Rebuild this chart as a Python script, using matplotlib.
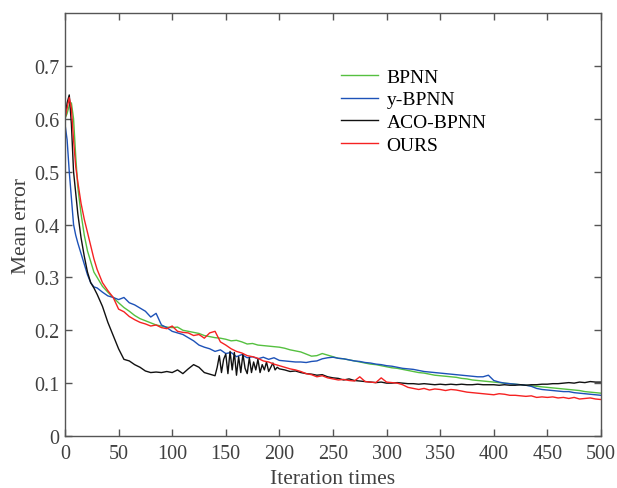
import matplotlib
matplotlib.use("Agg")
import matplotlib.pyplot as plt

plt.rcParams["font.family"] = ["Liberation Serif", "DejaVu Serif"]

# shared iteration grid
iters = [0, 2, 4, 6, 8, 10, 12, 15, 18, 21, 24, 27, 30] + list(range(35, 501, 5))

bpnn = [0.600, 0.610, 0.625, 0.630, 0.600, 0.530, 0.470, 0.420, 0.380, 0.350, 0.330, 0.310, 0.300,
        0.283, 0.272, 0.262, 0.252, 0.243, 0.236, 0.228, 0.222, 0.218, 0.214, 0.210, 0.208, 0.206,
        0.205, 0.206, 0.200, 0.198, 0.196, 0.194, 0.190, 0.188, 0.186, 0.185, 0.183, 0.180, 0.181,
        0.178, 0.174, 0.175, 0.172, 0.171, 0.170, 0.169, 0.168, 0.166, 0.163, 0.161, 0.159, 0.155,
        0.151, 0.152, 0.156, 0.153, 0.150, 0.147, 0.146, 0.144, 0.142, 0.140, 0.138, 0.136, 0.135,
        0.133, 0.131, 0.129, 0.128, 0.126, 0.124, 0.122, 0.120, 0.119, 0.117, 0.115, 0.114, 0.113,
        0.112, 0.111, 0.109, 0.108, 0.106, 0.105, 0.104, 0.103, 0.102, 0.101, 0.100, 0.099, 0.098,
        0.097, 0.096, 0.095, 0.094, 0.093, 0.092, 0.091, 0.090, 0.089, 0.088, 0.087, 0.086, 0.084,
        0.083, 0.082, 0.081]

y_bpnn = [0.590, 0.560, 0.500, 0.450, 0.400, 0.380, 0.365, 0.345, 0.325, 0.305, 0.290, 0.282, 0.280,
          0.272, 0.265, 0.262, 0.258, 0.262, 0.252, 0.248, 0.242, 0.236, 0.225, 0.232, 0.210, 0.205,
          0.198, 0.195, 0.192, 0.186, 0.180, 0.172, 0.168, 0.165, 0.160, 0.163, 0.156, 0.158, 0.150,
          0.154, 0.148, 0.150, 0.146, 0.149, 0.145, 0.148, 0.143, 0.142, 0.141, 0.140, 0.140, 0.139,
          0.141, 0.142, 0.146, 0.148, 0.149, 0.147, 0.146, 0.144, 0.142, 0.141, 0.139, 0.138, 0.136,
          0.135, 0.133, 0.132, 0.130, 0.128, 0.127, 0.126, 0.124, 0.122, 0.121, 0.120, 0.119, 0.118,
          0.117, 0.116, 0.115, 0.114, 0.113, 0.112, 0.112, 0.115, 0.105, 0.102, 0.100, 0.099, 0.098,
          0.097, 0.096, 0.094, 0.090, 0.088, 0.087, 0.086, 0.085, 0.084, 0.084, 0.082, 0.081, 0.080,
          0.079, 0.078, 0.077]

# ACO-BPNN has its own, denser grid through the noisy stretch 140-200
aco_iters = ([0, 2, 4, 6, 8, 10, 12, 15, 18, 21, 24, 27, 30] + list(range(35, 140, 5))
             + list(range(140, 201, 2)) + list(range(205, 501, 5)))

aco_bpnn = [0.600, 0.630, 0.645, 0.590, 0.500, 0.460, 0.420, 0.375, 0.340, 0.310, 0.290, 0.280, 0.268,
            0.245, 0.215, 0.190, 0.165, 0.145, 0.142, 0.135, 0.130, 0.123, 0.120, 0.121, 0.120, 0.122,
            0.120, 0.125, 0.118, 0.127, 0.135, 0.130, 0.120, 0.117,
            0.114, 0.130, 0.152, 0.120, 0.145, 0.155, 0.118, 0.160, 0.125, 0.158, 0.115, 0.150, 0.120,
            0.155, 0.128, 0.118, 0.148, 0.120, 0.140, 0.125, 0.145, 0.120, 0.135, 0.125, 0.140, 0.122,
            0.130, 0.138, 0.125, 0.130, 0.127,
            0.125, 0.122, 0.123, 0.120, 0.118, 0.117, 0.115, 0.116, 0.112, 0.110, 0.109, 0.106, 0.108,
            0.105, 0.104, 0.103, 0.102, 0.101, 0.102, 0.100, 0.100, 0.101, 0.100, 0.099, 0.099, 0.098,
            0.099, 0.098, 0.097, 0.098, 0.097, 0.098, 0.097, 0.098, 0.097, 0.097, 0.098, 0.097, 0.097,
            0.097, 0.096, 0.097, 0.096, 0.096, 0.097, 0.096, 0.097, 0.097, 0.098, 0.098, 0.099, 0.099,
            0.100, 0.101, 0.100, 0.102, 0.101, 0.103, 0.102, 0.102]

ours = [0.600, 0.620, 0.640, 0.620, 0.560, 0.510, 0.480, 0.440, 0.410, 0.385, 0.360, 0.335, 0.315,
        0.290, 0.275, 0.262, 0.240, 0.235, 0.226, 0.220, 0.215, 0.212, 0.208, 0.210, 0.205, 0.203,
        0.208, 0.198, 0.196, 0.195, 0.190, 0.192, 0.185, 0.195, 0.198, 0.178, 0.172, 0.165, 0.160,
        0.157, 0.152, 0.150, 0.147, 0.142, 0.140, 0.136, 0.133, 0.130, 0.127, 0.125, 0.122, 0.118,
        0.116, 0.112, 0.114, 0.110, 0.108, 0.106, 0.107, 0.105, 0.104, 0.112, 0.103, 0.102, 0.101,
        0.110, 0.102, 0.101, 0.100, 0.097, 0.092, 0.090, 0.088, 0.090, 0.087, 0.089, 0.088, 0.086,
        0.088, 0.087, 0.085, 0.083, 0.082, 0.081, 0.080, 0.079, 0.078, 0.080, 0.079, 0.077, 0.077,
        0.076, 0.075, 0.076, 0.073, 0.074, 0.073, 0.074, 0.072, 0.073, 0.071, 0.073, 0.070, 0.071,
        0.072, 0.070, 0.069]

labels = ["BPNN", "y-BPNN", "ACO-BPNN", "OURS"]
colors = ["#55c040", "#1d52b8", "#111111", "#f52222"]

fig = plt.figure(figsize=(6.17, 4.89), dpi=100)
ax = fig.add_axes([0.1053, 0.1063, 0.8687, 0.8651])

ax.plot(iters, bpnn, color=colors[0], lw=1.0, label=labels[0])
ax.plot(iters, y_bpnn, color=colors[1], lw=1.0, label=labels[1])
ax.plot(aco_iters, aco_bpnn, color=colors[2], lw=1.0, label=labels[2])
ax.plot(iters, ours, color=colors[3], lw=1.0, label=labels[3])

ax.set_xlim(0, 500)
ax.set_ylim(0, 0.8)
ax.set_xticks(range(0, 501, 50))
ax.set_yticks([0, 0.1, 0.2, 0.3, 0.4, 0.5, 0.6, 0.7])
ax.set_yticklabels(["0", "0.1", "0.2", "0.3", "0.4", "0.5", "0.6", "0.7"])

txt = "#404040"
for s in ax.spines.values():
    s.set_color("#555555")
    s.set_linewidth(1.0)
ax.tick_params(direction="in", top=True, right=True, length=5, width=1.0,
               color="#555555", labelcolor=txt, labelsize=14.5)
ax.tick_params(axis="x", pad=6)
ax.tick_params(axis="y", pad=4)

ax.set_xlabel("Iteration times", fontsize=15.5, color=txt, labelpad=4)
ax.set_ylabel("Mean error", fontsize=15.5, color=txt, labelpad=2)

ax.legend(loc="upper left", bbox_to_anchor=(0.5, 0.888), frameon=False, fontsize=14,
          handlelength=1.9, handletextpad=0.45, labelspacing=0.26, borderaxespad=0)

fig.savefig("out.png", dpi=100)
